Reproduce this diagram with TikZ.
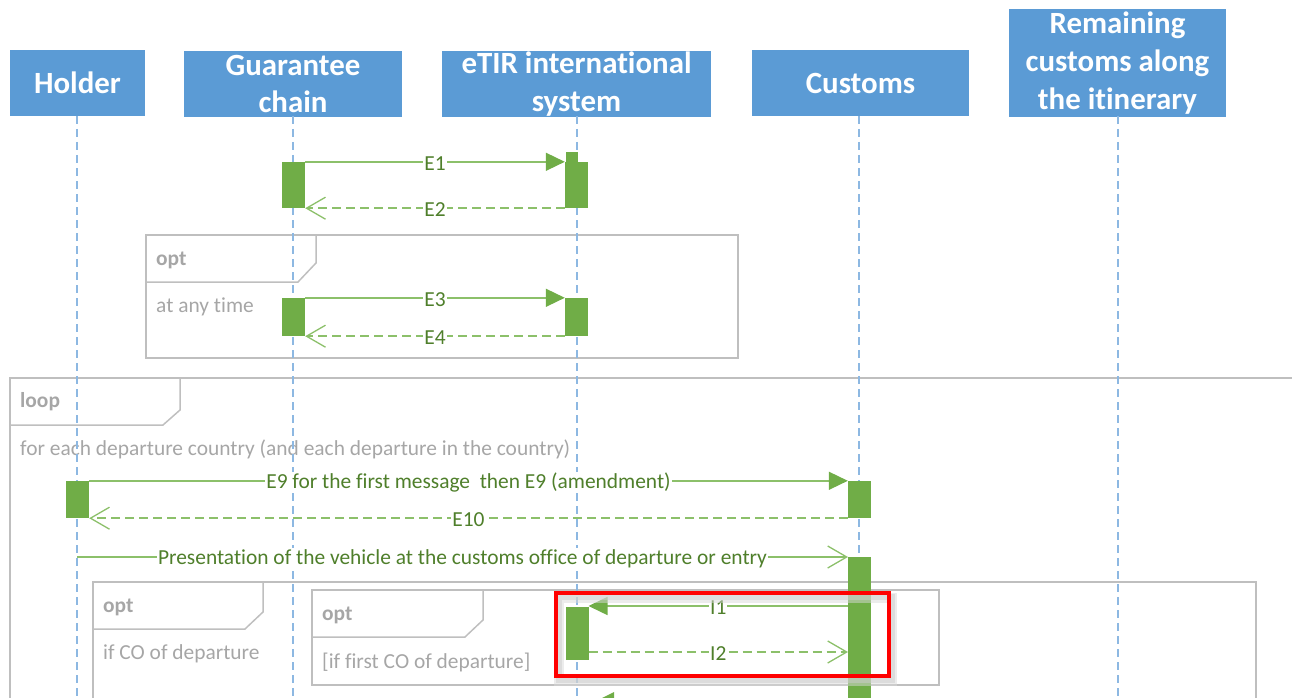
\documentclass[tikz,border=0pt]{standalone}
\usepackage{fontspec}
\setmainfont{Carlito}[Ligatures=NoCommon]
\usetikzlibrary{arrows.meta}
\definecolor{hdr}{HTML}{5B9BD5}
\definecolor{life}{HTML}{8DB8E2}
\definecolor{actg}{HTML}{70AD47}
\definecolor{msgl}{HTML}{8CC06A}
\definecolor{msgt}{HTML}{4F7F2B}
\definecolor{frm}{HTML}{BFBFBF}
\definecolor{frt}{HTML}{A6A6A6}
\tikzset{
  hdrbox/.style={fill=hdr, draw=none, text=white, inner sep=0pt, align=center,
    font=\bfseries\fontsize{31}{38}\selectfont},
  lifeline/.style={draw=life, line width=1.3bp, dash pattern=on 8bp off 5bp},
  actbar/.style={fill=actg, draw=none, inner sep=0pt, minimum width=23bp},
  msg/.style={draw=msgl, line width=1.5bp},
  msgdash/.style={msg, dash pattern=on 9bp off 5bp},
  synch/.style={-{Triangle[length=19bp,width=18bp,color=actg,fill=actg]}},
  reply/.style={-{Straight Barb[length=19bp,width=22bp,line width=1.3bp,color=msgl]}},
  lbl/.style={fill=white, inner sep=1bp, text=msgt, yshift=-1.5bp, font=\fontsize{21.5}{25}\selectfont},
  frame/.style={draw=frm, line width=1.5bp},
  frtitle/.style={anchor=west, inner sep=0pt, text=frt, font=\bfseries\fontsize{21.5}{25}\selectfont},
  frtext/.style={anchor=west, inner sep=0pt, text=frt, font=\fontsize{21.5}{25}\selectfont},
}
\begin{document}
\begin{tikzpicture}[x=1bp,y=-1bp]
\useasboundingbox (0,0) rectangle (1292,698);
\clip (0,0) rectangle (1292,698);

% headers
\node[hdrbox, minimum width=135bp, minimum height=66bp] (holder) at (77.5,83) {Holder};
\node[hdrbox, minimum width=218bp, minimum height=66bp] (guar) at (293,84) {Guarantee\\chain};
\node[hdrbox, minimum width=269bp, minimum height=66bp] (etir) at (576.5,84) {eTIR international\\system};
\node[hdrbox, minimum width=217bp, minimum height=66bp] (cust) at (860.5,83) {Customs};
\node[hdrbox, minimum width=217bp, minimum height=108bp] (rem) at (1117.5,63) {Remaining\\customs along\\the itinerary};

% frames
\draw[frame] (146,235) rectangle (738,358);
\draw[frame] (146,282) -- (298,282) -- (316,263) -- (316,235);
\node[frtitle] (opt1t) at (156,260) {opt};
\node[frtext] (opt1c) at (156,307) {at any time};

\draw[frame] (1300,378) -- (10,378) -- (10,710);
\draw[frame] (10,425) -- (163,425) -- (180,410) -- (180,378);
\node[frtitle] (loopt) at (20,402) {loop};
\node[frtext] (loopc) at (20,449) {for each departure country (and each departure in the country)};

\draw[frame] (93,710) -- (93,582) -- (1256,582) -- (1256,710);
\draw[frame] (93,629) -- (245,629) -- (263,612) -- (263,582);
\node[frtitle] (opt2t) at (103,607) {opt};
\node[frtext] (opt2c) at (103,654) {if CO of departure};

\draw[frame] (312,590) rectangle (939,685);
\draw[frame] (312,637) -- (465,637) -- (483,620) -- (483,590);
\node[frtitle] (opt3t) at (322,615) {opt};
\node[frtext] (opt3c) at (322,662) {[if first CO of departure]};

% lifelines
\draw[lifeline] (77,116) -- (77,700);
\draw[lifeline] (293,116) -- (293,700);
\draw[lifeline] (577,116) -- (577,700);
\draw[lifeline] (859,116) -- (859,700);
\draw[lifeline] (1118,116) -- (1118,700);

% activations
\node[actbar, minimum height=46bp] (g1) at (293.5,185) {};
\node[actbar, minimum height=46bp] (e1) at (576.5,185) {};
\fill[actg] (566,152) rectangle (578,163);
\node[actbar, minimum height=38bp] (g2) at (293.5,317) {};
\node[actbar, minimum height=38bp] (e2) at (576.5,317) {};
\node[actbar, minimum height=37bp] (h1) at (77.5,499.5) {};
\node[actbar, minimum height=37bp] (c1) at (859.5,499.5) {};
\node[actbar, minimum height=145bp] (c2) at (859.5,629.5) {};
\node[actbar, minimum height=53bp] (e3) at (577,633.5) {};

% messages
\draw[msg, synch] (g1.north east) -- node[lbl] {E1} (e1.north west);
\draw[msgdash, reply] (e1.south west) -- node[lbl] {E2} (g1.south east);
\draw[msg, synch] (g2.north east) -- node[lbl] {E3} (e2.north west);
\draw[msgdash, reply] (e2.south west) -- node[lbl] {E4} (g2.south east);
\draw[msg, synch] (h1.north east) -- node[lbl] {E9 for the first message\ \ then E9 (amendment)} (c1.north west);
\draw[msgdash, reply] (c1.south west) -- node[lbl] {E10} (h1.south east);
\coordinate (hp) at (77,557);
\coordinate (cp) at (848,557);
\draw[msg, reply] (hp) -- node[lbl] {Presentation of the vehicle at the customs office of departure or entry} (cp);
\coordinate (ci1) at (848,606);
\coordinate (ei1) at (588.5,606);
\draw[msg, synch] (ci1) -- node[lbl] {I1} (ei1);
\coordinate (ei2) at (588.5,652);
\coordinate (ci2) at (848,652);
\draw[msgdash, reply] (ei2) -- node[lbl] {I2} (ci2);

% partial arrow tip at bottom
\fill[actg] (598,700) -- (614,692) -- (614,708) -- cycle;

% red highlight with shadow
\draw[black!25, opacity=0.5, line width=6bp] (559,597) rectangle (892,680);
\draw[black!15, opacity=0.5, line width=10bp] (559,598) rectangle (892,681);
\draw[red, line width=4bp] (556,593) rectangle (889,676);
\end{tikzpicture}
\end{document}
